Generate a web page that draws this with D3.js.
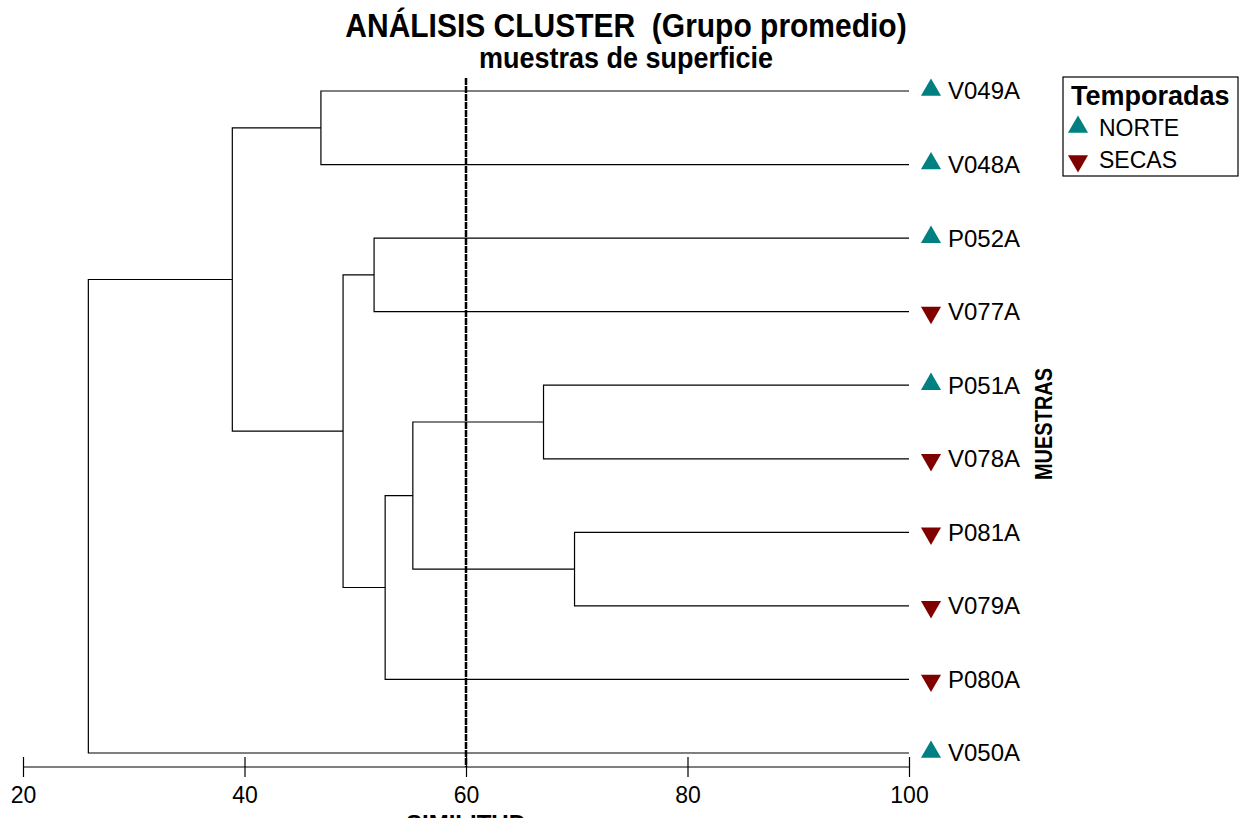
<!DOCTYPE html>
<html>
<head>
<meta charset="utf-8">
<script src="https://cdn.jsdelivr.net/npm/d3@7"></script>
<style>
  body { margin: 0; background: #fff; }
  text { font-family: Arial, "Liberation Sans", sans-serif; }
</style>
</head>
<body>
<svg class="chart"></svg>
<script>
var width = 1243,
	height = 818;

// leaves, top to bottom
var muestras = ["V049A", "V048A", "P052A", "V077A", "P051A", "V078A", "P081A", "V079A", "P080A", "V050A"];
var temporada = ["NORTE", "NORTE", "NORTE", "SECAS", "NORTE", "SECAS", "SECAS", "SECAS", "SECAS", "NORTE"];
// merges: [left, right, similitud]; ids >= 10 refer to earlier merges
var uniones = [
	[0, 1, 46.9],
	[2, 3, 51.7],
	[4, 5, 67.0],
	[6, 7, 69.8],
	[12, 13, 55.2],
	[14, 8, 52.7],
	[11, 15, 48.9],
	[10, 16, 38.9],
	[17, 9, 25.9]
];
var ticks = [20, 40, 60, 80, 100];
var corte = 60;
var temporadas = ["NORTE", "SECAS"];
var colores = {NORTE: "#008080", SECAS: "#800000"};

var x = d3.scaleLinear()
	.domain([20, 100])
	.range([23, 909]);

var y = d3.scalePoint()
	.domain(muestras)
	.range([91, 753]);

var chart = d3.select(".chart")
	.attr("width", width)
	.attr("height", height);

// node positions
var nodos = muestras.map(function(m) { return {y: y(m), v: 100}; });
var links = chart.append("g")
	.attr("fill", "none")
	.attr("stroke", "#000")
	.attr("stroke-width", 1.2);

uniones.forEach(function(u) {
	var a = nodos[u[0]], b = nodos[u[1]], xv = x(u[2]);
	links.append("path")
		.attr("d", "M" + x(a.v) + "," + a.y + "H" + xv + "V" + b.y + "H" + x(b.v));
	nodos.push({y: (a.y + b.y) / 2, v: u[2]});
});

// cut line
chart.append("line")
	.attr("x1", x(corte))
	.attr("x2", x(corte))
	.attr("y1", 78)
	.attr("y2", 767)
	.attr("stroke", "#000")
	.attr("stroke-width", 2.5)
	.attr("stroke-dasharray", "7,1");

// axis
var axis = d3.axisBottom(x)
	.tickValues(ticks)
	.tickSize(10)
	.tickPadding(10);

var gx = chart.append("g")
	.attr("transform", "translate(0,767)")
	.call(axis);
gx.select(".domain").attr("d", "M" + x(20) + ",0H" + x(100)).attr("stroke-width", 1.2);
gx.selectAll(".tick line").attr("y1", -10).attr("y2", 10).attr("stroke-width", 1.2);
gx.selectAll(".tick text")
	.attr("font-size", 23)
	.attr("font-family", "Arial, 'Liberation Sans', sans-serif")
	.attr("fill", "#000");

chart.append("text")
	.attr("x", x(60))
	.attr("y", 832)
	.attr("text-anchor", "middle")
	.attr("font-size", 24)
	.attr("font-weight", "bold")
	.text("SIMILITUD");

// markers and labels
var tri = d3.symbol().type(d3.symbolTriangle).size(175);
var hoja = chart.selectAll(".hoja")
	.data(muestras)
  .enter().append("g")
	.attr("class", "hoja")
	.attr("transform", function(d) { return "translate(931," + y(d) + ")"; });

hoja.append("path")
	.attr("d", tri)
	.attr("transform", function(d, i) { return temporada[i] == "SECAS" ? "translate(0,1) rotate(180)" : "translate(0,-1)"; })
	.attr("fill", function(d, i) { return colores[temporada[i]]; });

hoja.append("text")
	.attr("x", 17)
	.attr("dy", ".35em")
	.attr("font-size", 24)
	.text(function(d) { return d; });

// titles
chart.append("text")
	.attr("transform", "translate(626,37) scale(1,1.1)")
	.attr("text-anchor", "middle")
	.attr("font-size", 30)
	.attr("font-weight", "bold")
	.attr("xml:space", "preserve")
	.style("white-space", "pre")
	.text("ANÁLISIS CLUSTER  (Grupo promedio)");

chart.append("text")
	.attr("transform", "translate(626,68) scale(1,1.06)")
	.attr("text-anchor", "middle")
	.attr("font-size", 27)
	.attr("font-weight", "bold")
	.text("muestras de superficie");

chart.append("text")
	.attr("transform", "translate(1052,424) rotate(-90) scale(1,1.15)")
	.attr("text-anchor", "middle")
	.attr("font-size", 20)
	.attr("font-weight", "bold")
	.text("MUESTRAS");

// legend
var leyenda = chart.append("g")
	.attr("transform", "translate(1063,77)");

leyenda.append("rect")
	.attr("width", 175)
	.attr("height", 99)
	.attr("fill", "#fff")
	.attr("stroke", "#000")
	.attr("stroke-width", 1.2);

leyenda.append("text")
	.attr("x", 8)
	.attr("y", 28)
	.attr("font-size", 27)
	.attr("font-weight", "bold")
	.text("Temporadas");

var item = leyenda.selectAll(".item")
	.data(temporadas)
  .enter().append("g")
	.attr("class", "item")
	.attr("transform", function(d, i) { return "translate(15," + (51 + i * 32) + ")"; });

item.append("path")
	.attr("d", tri)
	.attr("transform", function(d) { return d == "SECAS" ? "translate(0,1) rotate(180)" : "translate(0,-1)"; })
	.attr("fill", function(d) { return colores[d]; });

item.append("text")
	.attr("x", 21)
	.attr("dy", ".35em")
	.attr("font-size", 23)
	.text(function(d) { return d; });
</script>
</body>
</html>
